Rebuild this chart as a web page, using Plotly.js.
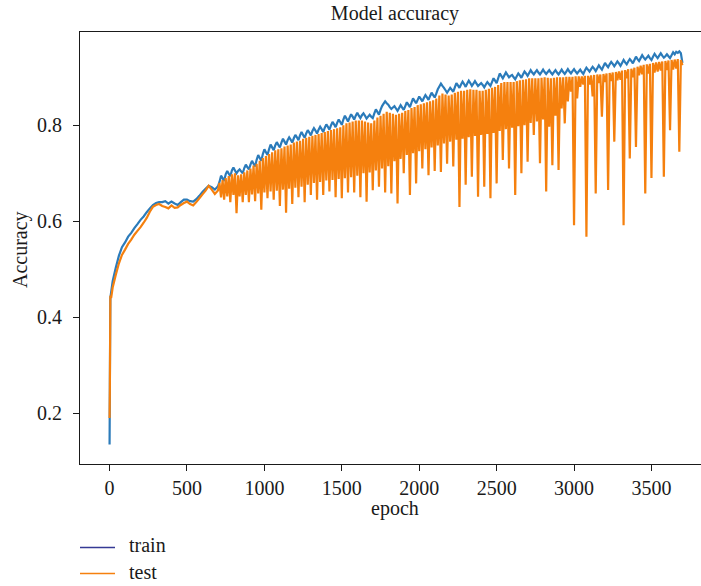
<!DOCTYPE html>
<html>
<head>
<meta charset="utf-8">
<script src="https://cdn.plot.ly/plotly-3.0.1.min.js"></script>
<style>
  html, body { margin: 0; padding: 0; background: #ffffff; }
  #chart { width: 701px; height: 586px; }
</style>
</head>
<body>
<div id="chart"></div>
<script>
// ---- data ----
const epochs = [
  0,2,5,10,20,40,60,80,100,120,
  140,160,180,200,220,240,260,280,300,320,
  340,360,380,400,420,440,460,480,500,520,
  540,560,580,600,620,640,660,680,700,
  710,720,730,740,750,760,770,780,790,800,
  810,820,830,840,850,860,870,880,890,900,
  910,920,930,940,950,960,970,980,990,1000,
  1010,1020,1030,1040,1050,1060,1070,1080,1090,1100,
  1110,1120,1130,1140,1150,1160,1170,1180,1190,1200,
  1210,1220,1230,1240,1250,1260,1270,1280,1290,1300,
  1310,1320,1330,1340,1350,1360,1370,1380,1390,1400,
  1410,1420,1430,1440,1450,1460,1470,1480,1490,1500,
  1510,1520,1530,1540,1550,1560,1570,1580,1590,1600,
  1610,1620,1630,1640,1650,1660,1670,1680,1690,1700,
  1710,1720,1730,1740,1750,1760,1770,1780,1790,1800,
  1810,1820,1830,1840,1850,1860,1870,1880,1890,1900,
  1910,1920,1930,1940,1950,1960,1970,1980,1990,2000,
  2010,2020,2030,2040,2050,2060,2070,2080,2090,2100,
  2110,2120,2130,2140,2150,2160,2170,2180,2190,2200,
  2210,2220,2230,2240,2250,2260,2270,2280,2290,2300,
  2310,2320,2330,2340,2350,2360,2370,2380,2390,2400,
  2410,2420,2430,2440,2450,2460,2470,2480,2490,2500,
  2510,2520,2530,2540,2550,2560,2570,2580,2590,2600,
  2610,2620,2630,2640,2650,2660,2670,2680,2690,2700,
  2710,2720,2730,2740,2750,2760,2770,2780,2790,2800,
  2810,2820,2830,2840,2850,2860,2870,2880,2890,2900,
  2910,2920,2930,2940,2950,2960,2970,2980,2990,3000,
  3010,3020,3030,3040,3050,3060,3070,3080,3090,3100,
  3110,3120,3130,3140,3150,3160,3170,3180,3190,3200,
  3210,3220,3230,3240,3250,3260,3270,3280,3290,3300,
  3310,3320,3330,3340,3350,3360,3370,3380,3390,3400,
  3410,3420,3430,3440,3450,3460,3470,3480,3490,3500,
  3510,3520,3530,3540,3550,3560,3570,3580,3590,3600,
  3610,3620,3630,3640,3650,3660,3670,3680,3690,3700
];

const trainAcc = [
  0.135,0.260,0.440,0.452,0.475,0.503,0.528,0.546,0.556,0.568,
  0.576,0.586,0.594,0.603,0.610,0.619,0.627,0.634,0.638,0.640,
  0.640,0.642,0.637,0.641,0.637,0.634,0.640,0.645,0.645,0.642,
  0.641,0.646,0.653,0.661,0.668,0.674,0.671,0.666,0.673,
  0.682,0.695,0.690,0.684,0.698,0.705,0.699,0.694,0.706,0.712,
  0.706,0.700,0.705,0.708,0.704,0.700,0.711,0.718,0.713,0.708,
  0.718,0.726,0.720,0.714,0.728,0.738,0.732,0.726,0.740,0.750,
  0.744,0.738,0.750,0.760,0.754,0.748,0.758,0.765,0.759,0.754,
  0.764,0.772,0.766,0.760,0.769,0.775,0.770,0.764,0.773,0.780,
  0.775,0.769,0.779,0.786,0.780,0.774,0.783,0.790,0.785,0.779,
  0.788,0.794,0.789,0.783,0.791,0.797,0.792,0.786,0.795,0.802,
  0.797,0.791,0.800,0.807,0.802,0.796,0.805,0.812,0.807,0.801,
  0.812,0.820,0.814,0.808,0.816,0.823,0.818,0.812,0.820,0.826,
  0.820,0.815,0.821,0.825,0.820,0.814,0.818,0.822,0.818,0.815,
  0.825,0.833,0.828,0.822,0.832,0.840,0.845,0.850,0.846,0.843,
  0.838,0.834,0.837,0.840,0.835,0.830,0.836,0.842,0.837,0.832,
  0.840,0.848,0.843,0.838,0.847,0.856,0.851,0.846,0.853,0.860,
  0.855,0.850,0.857,0.863,0.858,0.853,0.861,0.868,0.863,0.858,
  0.866,0.875,0.881,0.887,0.882,0.878,0.873,0.868,0.873,0.878,
  0.874,0.870,0.879,0.888,0.883,0.878,0.885,0.891,0.886,0.880,
  0.887,0.893,0.888,0.882,0.887,0.892,0.887,0.882,0.885,0.888,
  0.884,0.879,0.885,0.890,0.886,0.882,0.890,0.898,0.893,0.888,
  0.898,0.908,0.903,0.898,0.904,0.910,0.905,0.900,0.903,0.905,
  0.900,0.896,0.902,0.908,0.904,0.899,0.906,0.912,0.908,0.903,
  0.909,0.915,0.910,0.906,0.911,0.915,0.910,0.906,0.911,0.916,
  0.911,0.907,0.911,0.915,0.910,0.906,0.911,0.915,0.910,0.906,
  0.911,0.916,0.911,0.907,0.912,0.917,0.912,0.908,0.913,0.917,
  0.912,0.908,0.912,0.916,0.911,0.907,0.914,0.920,0.916,0.912,
  0.917,0.922,0.918,0.913,0.919,0.925,0.920,0.916,0.923,0.930,
  0.925,0.921,0.927,0.932,0.928,0.923,0.928,0.933,0.929,0.924,
  0.930,0.936,0.931,0.927,0.933,0.938,0.934,0.929,0.936,0.943,
  0.938,0.934,0.940,0.946,0.941,0.937,0.941,0.945,0.940,0.936,
  0.943,0.949,0.944,0.940,0.945,0.950,0.945,0.941,0.944,0.948,
  0.944,0.940,0.946,0.952,0.948,0.953,0.951,0.954,0.950,0.930
];

const testAcc = [
  0.190,0.255,0.445,0.440,0.462,0.488,0.512,0.530,0.541,0.553,
  0.562,0.572,0.580,0.588,0.597,0.607,0.620,0.630,0.634,0.636,
  0.632,0.630,0.627,0.633,0.628,0.629,0.634,0.638,0.641,0.636,
  0.633,0.640,0.648,0.656,0.664,0.674,0.666,0.657,0.664,
  0.680,0.650,0.686,0.645,0.690,0.652,0.694,0.640,0.698,0.655,
  0.700,0.617,0.696,0.652,0.698,0.640,0.702,0.655,0.706,0.640,
  0.710,0.656,0.716,0.642,0.720,0.658,0.726,0.624,0.732,0.660,
  0.736,0.648,0.740,0.662,0.744,0.645,0.748,0.664,0.750,0.632,
  0.752,0.666,0.756,0.618,0.758,0.668,0.760,0.636,0.764,0.670,
  0.766,0.650,0.768,0.672,0.772,0.640,0.774,0.676,0.776,0.655,
  0.778,0.680,0.780,0.645,0.782,0.682,0.784,0.655,0.786,0.685,
  0.788,0.662,0.790,0.686,0.792,0.650,0.794,0.688,0.796,0.648,
  0.800,0.690,0.804,0.660,0.806,0.692,0.808,0.660,0.810,0.695,
  0.810,0.650,0.810,0.700,0.808,0.641,0.806,0.702,0.804,0.665,
  0.810,0.706,0.816,0.672,0.820,0.710,0.824,0.660,0.828,0.715,
  0.826,0.658,0.824,0.725,0.822,0.637,0.824,0.730,0.826,0.700,
  0.830,0.738,0.832,0.655,0.836,0.742,0.838,0.679,0.842,0.746,
  0.844,0.710,0.846,0.750,0.848,0.696,0.850,0.754,0.852,0.705,
  0.856,0.758,0.862,0.703,0.866,0.762,0.864,0.720,0.862,0.766,
  0.864,0.714,0.868,0.770,0.870,0.630,0.872,0.772,0.872,0.676,
  0.874,0.775,0.875,0.693,0.874,0.778,0.874,0.651,0.872,0.780,
  0.872,0.672,0.874,0.782,0.876,0.648,0.878,0.784,0.880,0.679,
  0.884,0.788,0.888,0.728,0.890,0.792,0.890,0.710,0.890,0.795,
  0.890,0.655,0.892,0.798,0.894,0.700,0.895,0.800,0.896,0.724,
  0.898,0.805,0.898,0.780,0.898,0.808,0.898,0.721,0.899,0.812,
  0.900,0.662,0.899,0.797,0.898,0.717,0.899,0.820,0.900,0.707,
  0.900,0.835,0.900,0.804,0.901,0.850,0.901,0.870,0.901,0.592,
  0.902,0.856,0.902,0.880,0.902,0.885,0.903,0.568,0.903,0.885,
  0.904,0.860,0.905,0.658,0.906,0.888,0.906,0.818,0.907,0.890,
  0.908,0.665,0.909,0.892,0.910,0.766,0.911,0.894,0.912,0.895,
  0.914,0.592,0.915,0.898,0.917,0.731,0.918,0.900,0.920,0.755,
  0.922,0.904,0.924,0.906,0.926,0.658,0.927,0.908,0.928,0.690,
  0.930,0.910,0.931,0.912,0.932,0.914,0.933,0.693,0.934,0.915,
  0.935,0.790,0.936,0.916,0.937,0.918,0.938,0.745,0.936,0.925
];

const xTickVals = [0, 500, 1000, 1500, 2000, 2500, 3000, 3500];
const xTickText = ["0", "500", "1000", "1500", "2000", "2500", "3000", "3500"];
const yTickVals = [0.2, 0.4, 0.6, 0.8];
const yTickText = ["0.2", "0.4", "0.6", "0.8"];
const seriesNames = ["train", "test"];
const titleText = "Model accuracy";
const xLabel = "epoch";
const yLabel = "Accuracy";

// ---- styling ----
const FONT = "'Liberation Serif', 'Times New Roman', serif";
const FS = 20;
const TXT = "#1a1a1a";
const blue = "#2b7bba";
const orange = "#f5800e";
const legendBlue = "#353a95";

const W = 701, H = 586;
const M = {l: 80, r: 0, t: 32, b: 122};
const plotW = W - M.l - M.r, plotH = H - M.t - M.b;
const px2paperX = px => (px - M.l) / plotW;
const px2paperY = py => (H - M.b - py) / plotH;

const traces = [
  {x: epochs, y: trainAcc, type: "scatter", mode: "lines", name: seriesNames[0],
   line: {color: blue, width: 2.2, simplify: false}, showlegend: false, hoverinfo: "skip"},
  {x: epochs, y: testAcc, type: "scatter", mode: "lines", name: seriesNames[1],
   line: {color: orange, width: 2.2, simplify: false}, showlegend: false, hoverinfo: "skip"}
];

// y tick labels placed as annotations (matplotlib-like gap from the ticks)
const yLabelAnns = yTickVals.map((v, i) => ({
  text: yTickText[i], xref: "paper", yref: "y", x: px2paperX(64), y: v,
  xanchor: "right", yanchor: "middle", showarrow: false,
  font: {family: FONT, size: FS, color: TXT}
}));

const layout = {
  width: W, height: H,
  margin: M,
  paper_bgcolor: "#ffffff", plot_bgcolor: "#ffffff",
  font: {family: FONT, size: FS, color: TXT},
  showlegend: false,
  title: {text: titleText, x: 395 / W, xanchor: "center", xref: "container",
          y: 1 - 13 / H, yref: "container", yanchor: "middle",
          font: {family: FONT, size: 20, color: TXT}},
  xaxis: {
    range: [-191, 3820], tickmode: "array", tickvals: xTickVals, ticktext: xTickText,
    ticks: "outside", ticklen: 6, tickwidth: 1, tickcolor: TXT,
    showline: true, linecolor: TXT, linewidth: 1.2, mirror: true,
    showgrid: false, zeroline: false, tickfont: {family: FONT, size: FS, color: TXT}
  },
  yaxis: {
    range: [0.0944, 0.9944], tickmode: "array", tickvals: yTickVals,
    showticklabels: false,
    ticks: "outside", ticklen: 6, tickwidth: 1, tickcolor: TXT,
    showline: true, linecolor: TXT, linewidth: 1.2, mirror: false,
    showgrid: false, zeroline: false
  },
  shapes: [
    {type: "line", xref: "paper", yref: "paper", x0: px2paperX(80), x1: px2paperX(115),
     y0: px2paperY(547.5), y1: px2paperY(547.5), line: {color: legendBlue, width: 1.6}},
    {type: "line", xref: "paper", yref: "paper", x0: px2paperX(80), x1: px2paperX(115),
     y0: px2paperY(573.5), y1: px2paperY(573.5), line: {color: orange, width: 1.6}}
  ],
  annotations: yLabelAnns.concat([
    {text: xLabel, xref: "paper", yref: "paper", x: px2paperX(395), y: px2paperY(508),
     xanchor: "center", yanchor: "middle", showarrow: false, font: {family: FONT, size: FS, color: TXT}},
    {text: yLabel, xref: "paper", yref: "paper", x: px2paperX(20), y: px2paperY(250),
     xanchor: "center", yanchor: "middle", textangle: -90, showarrow: false, font: {family: FONT, size: FS, color: TXT}},
    {text: seriesNames[0], xref: "paper", yref: "paper", x: px2paperX(127), y: px2paperY(545),
     xanchor: "left", yanchor: "middle", showarrow: false, font: {family: FONT, size: FS, color: TXT}},
    {text: seriesNames[1], xref: "paper", yref: "paper", x: px2paperX(127), y: px2paperY(572),
     xanchor: "left", yanchor: "middle", showarrow: false, font: {family: FONT, size: FS, color: TXT}}
  ])
};

Plotly.newPlot("chart", traces, layout, {staticPlot: true, displayModeBar: false});
</script>
</body>
</html>
